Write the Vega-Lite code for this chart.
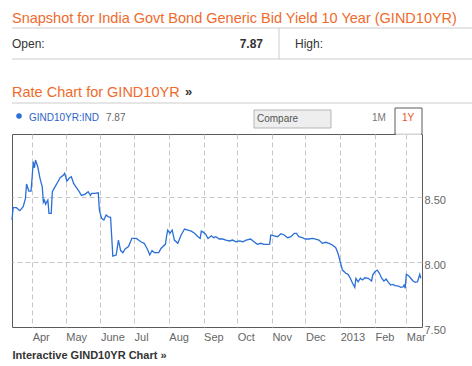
{
  "$schema": "https://vega.github.io/schema/vega-lite/v6.json",
  "width": 410,
  "height": 193,
  "autosize": "none",
  "padding": {"left": 12, "top": 134, "right": 50, "bottom": 39},
  "background": "white",
  "config": {"font": "Liberation Sans", "view": {"stroke": "#5a5a5a", "strokeWidth": 1}},
  "layer": [
    {
      "data": {"values": [
        {"d":"2012-03-14","v":8.323},{"d":"2012-03-15","v":8.418},{"d":"2012-03-18","v":8.418},{"d":"2012-03-21","v":8.395},
        {"d":"2012-03-24","v":8.425},{"d":"2012-03-26","v":8.49},{"d":"2012-03-27","v":8.60},{"d":"2012-03-29","v":8.546},
        {"d":"2012-03-31","v":8.546},{"d":"2012-04-01","v":8.656},{"d":"2012-04-02","v":8.772},{"d":"2012-04-03","v":8.725},
        {"d":"2012-04-04","v":8.785},{"d":"2012-04-06","v":8.733},{"d":"2012-04-08","v":8.644},{"d":"2012-04-10","v":8.579},
        {"d":"2012-04-11","v":8.459},{"d":"2012-04-12","v":8.477},{"d":"2012-04-13","v":8.444},{"d":"2012-04-15","v":8.477},
        {"d":"2012-04-16","v":8.375},{"d":"2012-04-18","v":8.375},{"d":"2012-04-19","v":8.541},{"d":"2012-04-21","v":8.572},
        {"d":"2012-04-24","v":8.618},{"d":"2012-04-26","v":8.648},{"d":"2012-04-29","v":8.669},{"d":"2012-04-30","v":8.682},
        {"d":"2012-05-02","v":8.623},{"d":"2012-05-04","v":8.644},{"d":"2012-05-06","v":8.656},{"d":"2012-05-08","v":8.605},
        {"d":"2012-05-11","v":8.567},{"d":"2012-05-13","v":8.541},{"d":"2012-05-15","v":8.512},{"d":"2012-05-18","v":8.521},
        {"d":"2012-05-21","v":8.541},{"d":"2012-05-23","v":8.512},{"d":"2012-05-24","v":8.528},{"d":"2012-05-27","v":8.528},
        {"d":"2012-05-30","v":8.533},{"d":"2012-05-31","v":8.40},{"d":"2012-06-02","v":8.336},{"d":"2012-06-04","v":8.323},
        {"d":"2012-06-06","v":8.362},{"d":"2012-06-08","v":8.348},{"d":"2012-06-10","v":8.344},{"d":"2012-06-11","v":8.195},
        {"d":"2012-06-12","v":8.046},{"d":"2012-06-15","v":8.054},{"d":"2012-06-17","v":8.169},{"d":"2012-06-19","v":8.088},
        {"d":"2012-06-21","v":8.072},{"d":"2012-06-23","v":8.10},{"d":"2012-06-26","v":8.119},{"d":"2012-06-29","v":8.182},
        {"d":"2012-07-03","v":8.182},{"d":"2012-07-07","v":8.156},{"d":"2012-07-10","v":8.144},{"d":"2012-07-13","v":8.096},
        {"d":"2012-07-15","v":8.054},{"d":"2012-07-17","v":8.088},{"d":"2012-07-19","v":8.073},{"d":"2012-07-23","v":8.073},
        {"d":"2012-07-25","v":8.104},{"d":"2012-07-29","v":8.138},{"d":"2012-07-30","v":8.20},{"d":"2012-07-31","v":8.246},
        {"d":"2012-08-02","v":8.221},{"d":"2012-08-04","v":8.246},{"d":"2012-08-06","v":8.169},{"d":"2012-08-09","v":8.144},
        {"d":"2012-08-12","v":8.208},{"d":"2012-08-15","v":8.254},{"d":"2012-08-18","v":8.246},{"d":"2012-08-21","v":8.238},
        {"d":"2012-08-24","v":8.221},{"d":"2012-08-27","v":8.195},{"d":"2012-08-29","v":8.182},{"d":"2012-08-30","v":8.238},
        {"d":"2012-09-01","v":8.228},{"d":"2012-09-03","v":8.213},{"d":"2012-09-05","v":8.181},{"d":"2012-09-08","v":8.202},
        {"d":"2012-09-10","v":8.187},{"d":"2012-09-12","v":8.195},{"d":"2012-09-15","v":8.177},{"d":"2012-09-18","v":8.177},
        {"d":"2012-09-21","v":8.169},{"d":"2012-09-24","v":8.162},{"d":"2012-09-27","v":8.169},{"d":"2012-09-30","v":8.156},
        {"d":"2012-10-03","v":8.162},{"d":"2012-10-06","v":8.156},{"d":"2012-10-09","v":8.169},{"d":"2012-10-13","v":8.177},
        {"d":"2012-10-16","v":8.156},{"d":"2012-10-19","v":8.136},{"d":"2012-10-22","v":8.144},{"d":"2012-10-25","v":8.136},
        {"d":"2012-10-28","v":8.136},{"d":"2012-10-30","v":8.138},{"d":"2012-10-31","v":8.208},{"d":"2012-11-03","v":8.202},
        {"d":"2012-11-06","v":8.195},{"d":"2012-11-09","v":8.218},{"d":"2012-11-12","v":8.208},{"d":"2012-11-15","v":8.187},
        {"d":"2012-11-18","v":8.195},{"d":"2012-11-21","v":8.221},{"d":"2012-11-23","v":8.221},{"d":"2012-11-25","v":8.195},
        {"d":"2012-11-28","v":8.187},{"d":"2012-12-01","v":8.177},{"d":"2012-12-04","v":8.177},{"d":"2012-12-07","v":8.182},
        {"d":"2012-12-10","v":8.177},{"d":"2012-12-13","v":8.169},{"d":"2012-12-16","v":8.144},{"d":"2012-12-19","v":8.152},
        {"d":"2012-12-22","v":8.144},{"d":"2012-12-25","v":8.131},{"d":"2012-12-28","v":8.11},{"d":"2012-12-30","v":8.067},
        {"d":"2013-01-01","v":8.002},{"d":"2013-01-03","v":7.938},{"d":"2013-01-06","v":7.913},{"d":"2013-01-08","v":7.905},
        {"d":"2013-01-10","v":7.875},{"d":"2013-01-12","v":7.836},{"d":"2013-01-14","v":7.805},{"d":"2013-01-15","v":7.875},
        {"d":"2013-01-17","v":7.848},{"d":"2013-01-19","v":7.875},{"d":"2013-01-21","v":7.862},{"d":"2013-01-23","v":7.879},
        {"d":"2013-01-26","v":7.875},{"d":"2013-01-29","v":7.854},{"d":"2013-01-30","v":7.90},{"d":"2013-02-01","v":7.925},
        {"d":"2013-02-03","v":7.938},{"d":"2013-02-05","v":7.913},{"d":"2013-02-07","v":7.875},{"d":"2013-02-09","v":7.854},
        {"d":"2013-02-11","v":7.869},{"d":"2013-02-13","v":7.844},{"d":"2013-02-15","v":7.823},{"d":"2013-02-17","v":7.828},
        {"d":"2013-02-19","v":7.818},{"d":"2013-02-22","v":7.815},{"d":"2013-02-24","v":7.805},{"d":"2013-02-26","v":7.808},
        {"d":"2013-02-27","v":7.823},{"d":"2013-02-28","v":7.798},{"d":"2013-03-01","v":7.905},{"d":"2013-03-03","v":7.895},
        {"d":"2013-03-05","v":7.875},{"d":"2013-03-07","v":7.854},{"d":"2013-03-09","v":7.844},{"d":"2013-03-11","v":7.848},
        {"d":"2013-03-13","v":7.905},{"d":"2013-03-14","v":7.875}
      ]},
      "mark": {"type": "line", "color": "#2b6fd9", "strokeWidth": 1.3},
      "encoding": {
        "x": {
          "field": "d", "type": "temporal",
          "scale": {"domain": [{"year": 2012, "month": 3, "date": 14}, {"year": 2013, "month": 3, "date": 15}]},
          "axis": {
            "title": "Interactive GIND10YR Chart \u00bb",
            "tickCount": {"interval": "month", "step": 1},
            "labelExpr": "month(datum.value) == 5 ? 'June' : (month(datum.value) == 0 ? timeFormat(datum.value, '%Y') : timeFormat(datum.value, '%b'))",
            "labelAlign": "left", "labelFlush": false, "labelOverlap": false, "labelPadding": 4,
            "labelFontSize": 11, "labelColor": "#666",
            "ticks": false, "domain": false,
            "grid": true, "gridDash": [5, 3], "gridColor": "#c8c8c8",
            "titleAnchor": "start", "titleAlign": "left", "titleBaseline": "alphabetic",
            "titleX": 0, "titleY": 31, "titleFontSize": 11, "titleFontWeight": "bold", "titleColor": "#333"
          }
        },
        "y": {
          "field": "v", "type": "quantitative",
          "scale": {"domain": [7.5, 8.985], "nice": false, "zero": false},
          "axis": {
            "orient": "right", "title": null, "values": [7.5, 8, 8.5], "format": ".2f",
            "ticks": false, "domain": false, "labelPadding": 2, "labelFontSize": 11, "labelColor": "#666",
            "labelOffset": 3, "labelFlush": false,
            "gridDash": [5, 3], "gridColor": "#c8c8c8",
            "gridOpacity": {"condition": {"test": "datum.value == 7.5", "value": 0}, "value": 1}
          }
        }
      }
    },
    {"data": {"values": [{}]}, "mark": {"type": "text", "text": "Snapshot for India Govt Bond Generic Bid Yield 10 Year (GIND10YR)", "x": 0, "y": -111, "align": "left", "baseline": "alphabetic", "fontSize": 14.5, "color": "#f06a2c"}, "encoding": {}},
    {"data": {"values": [{}]}, "mark": {"type": "rule", "color": "#cccccc"}, "encoding": {"x": {"value": 0}, "x2": {"value": 460}, "y": {"value": -106}}},
    {"data": {"values": [{}]}, "mark": {"type": "text", "text": "Open:", "x": 0, "y": -86, "align": "left", "baseline": "alphabetic", "fontSize": 12, "color": "#333"}, "encoding": {}},
    {"data": {"values": [{}]}, "mark": {"type": "text", "text": "7.87", "x": 251, "y": -86, "align": "right", "baseline": "alphabetic", "fontSize": 12, "fontWeight": "bold", "color": "#333"}, "encoding": {}},
    {"data": {"values": [{}]}, "mark": {"type": "rule", "color": "#cccccc"}, "encoding": {"x": {"value": 267}, "y": {"value": -106}, "y2": {"value": -75}}},
    {"data": {"values": [{}]}, "mark": {"type": "text", "text": "High:", "x": 283, "y": -86, "align": "left", "baseline": "alphabetic", "fontSize": 12, "color": "#333"}, "encoding": {}},
    {"data": {"values": [{}]}, "mark": {"type": "rule", "color": "#cccccc"}, "encoding": {"x": {"value": 0}, "x2": {"value": 460}, "y": {"value": -75}}},
    {"data": {"values": [{}]}, "mark": {"type": "text", "text": "Rate Chart for GIND10YR", "x": 0, "y": -37, "align": "left", "baseline": "alphabetic", "fontSize": 14.5, "color": "#f06a2c"}, "encoding": {}},
    {"data": {"values": [{}]}, "mark": {"type": "text", "text": "\u00bb", "x": 173, "y": -38, "align": "left", "baseline": "alphabetic", "fontSize": 13, "fontWeight": "bold", "color": "#333"}, "encoding": {}},
    {"data": {"values": [{}]}, "mark": {"type": "rule", "color": "#cccccc"}, "encoding": {"x": {"value": 0}, "x2": {"value": 460}, "y": {"value": -31}}},
    {"data": {"values": [{}]}, "mark": {"type": "point", "filled": true, "size": 30, "opacity": 1, "color": "#2b6fd9"}, "encoding": {"x": {"value": 7}, "y": {"value": -18}}},
    {"data": {"values": [{}]}, "mark": {"type": "text", "text": "GIND10YR:IND", "x": 17, "y": -13, "align": "left", "baseline": "alphabetic", "fontSize": 10, "color": "#2a64c8"}, "encoding": {}},
    {"data": {"values": [{}]}, "mark": {"type": "text", "text": "7.87", "x": 94, "y": -13, "align": "left", "baseline": "alphabetic", "fontSize": 10, "color": "#666"}, "encoding": {}},
    {"data": {"values": [{}]}, "mark": {"type": "rect", "fill": "#eeeeee", "stroke": "#b5b5b5", "strokeWidth": 1}, "encoding": {"x": {"value": 242}, "x2": {"value": 319}, "y": {"value": -24}, "y2": {"value": -6}}},
    {"data": {"values": [{}]}, "mark": {"type": "text", "text": "Compare", "x": 245, "y": -12, "align": "left", "baseline": "alphabetic", "fontSize": 10, "color": "#555"}, "encoding": {}},
    {"data": {"values": [{}]}, "mark": {"type": "text", "text": "1M", "x": 360, "y": -13, "align": "left", "baseline": "alphabetic", "fontSize": 10, "color": "#777"}, "encoding": {}},
    {"data": {"values": [{}]}, "mark": {"type": "rect", "fill": "white", "stroke": "#5a5a5a", "strokeWidth": 1}, "encoding": {"x": {"value": 383}, "x2": {"value": 410}, "y": {"value": -26}, "y2": {"value": 0}}},
    {"data": {"values": [{}]}, "mark": {"type": "rule", "color": "white", "strokeWidth": 1.5}, "encoding": {"x": {"value": 383.8}, "x2": {"value": 409.2}, "y": {"value": 0}}},
    {"data": {"values": [{}]}, "mark": {"type": "text", "text": "1Y", "x": 390, "y": -13, "align": "left", "baseline": "alphabetic", "fontSize": 10, "color": "#e8532a"}, "encoding": {}}
  ]
}
